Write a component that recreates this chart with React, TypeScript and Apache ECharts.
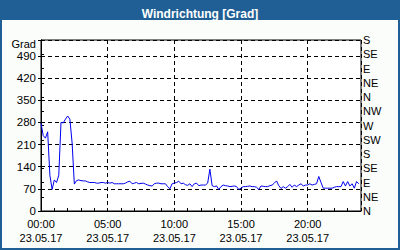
import React, { useEffect, useRef } from "react";
import * as echarts from "echarts";

// Wind direction in degrees, sampled every 10 minutes from 00:00 on 23.05.17
const STEP_MINUTES = 10;
const windDir = [
  277, 238, 230, 250, 113, 68, 98, 90, 113, 280, 278, 290, 300, 290, 215, 85, 96, 98, 96, 95,
  95, 92, 90, 90, 90, 88, 88, 90, 90, 88, 90, 88, 90, 86, 86, 86, 86, 86, 88, 92,
  94, 86, 88, 90, 86, 87, 88, 85, 82, 80, 79, 86, 88, 88, 86, 86, 86, 77, 70, 86,
  88, 90, 94, 86, 88, 83, 81, 86, 77, 86, 88, 80, 82, 82, 82, 88, 132, 80, 77, 79,
  68, 77, 82, 80, 79, 77, 78, 79, 77, 68, 72, 77, 77, 78, 79, 77, 77, 75, 68, 79,
  78, 77, 77, 80, 82, 88, 95, 80, 71, 77, 72, 77, 84, 75, 82, 77, 82, 86, 79, 82,
  82, 86, 82, 84, 86, 109, 90, 72, 72, 72, 72, 72, 75, 77, 77, 77, 93, 79, 93, 79,
  86, 72, 93, 86,
];
const dateLabel = "23.05.17";
const compassLabels = ["N", "NE", "E", "SE", "S", "SW", "W", "NW", "N", "NE", "E", "SE", "S"];
const degreeTicksMax = 490;

const FONT = "Liberation Sans, Arial, sans-serif";

export default function App() {
  const ref = useRef<HTMLDivElement>(null);
  useEffect(() => {
    if (!ref.current) return;
    const chart = echarts.init(ref.current, null, { renderer: "svg" });
    const data = windDir.map((v, i) => [(i * STEP_MINUTES) / 60, v]);
    const pad = (n: number) => (n < 10 ? "0" + n : String(n));
    const dashed = { show: true, lineStyle: { color: "#000", width: 1, type: [4, 3] as any } };
    chart.setOption({
      animation: false,
      backgroundColor: "#1f5f95",
      title: {
        text: "Windrichtung [Grad]",
        left: "center",
        top: 3,
        textStyle: { color: "#fff", fontSize: 12, fontWeight: "bold", fontFamily: FONT },
      },
      graphic: [
        {
          type: "rect",
          left: 2,
          top: 20,
          z: -10,
          shape: { width: 396, height: 228 },
          style: { fill: "#fbfdfb" },
        },
      ],
      grid: {
        left: 41,
        right: 39,
        top: 40,
        bottom: 39,
        show: true,
        backgroundColor: "#fff",
        borderColor: "#000",
        borderWidth: 1,
      },
      xAxis: [
        {
          type: "value",
          min: 0,
          max: 24,
          interval: 1,
          axisLine: { show: true, lineStyle: { color: "#000", width: 1 } },
          axisTick: { show: true, inside: true, length: 3, lineStyle: { color: "#000" } },
          axisLabel: {
            margin: 6,
            color: "#000",
            fontSize: 11,
            fontFamily: FONT,
            lineHeight: 14,
            showMaxLabel: false,
            formatter: (v: number) => (v % 5 === 0 && v < 24 ? `${pad(v)}:00\n${dateLabel}` : ""),
          },
          splitLine: { show: false },
        },
        {
          type: "value",
          min: 0,
          max: 24,
          interval: 5,
          position: "bottom",
          axisLine: { show: false },
          axisTick: { show: false },
          axisLabel: { show: false },
          splitLine: dashed,
        },
      ],
      yAxis: [
        {
          type: "value",
          position: "left",
          min: 0,
          max: 540,
          interval: 70,
          name: "Grad",
          nameLocation: "end",
          nameGap: -4,
          nameTextStyle: {
            color: "#000",
            fontSize: 11,
            lineHeight: 10,
            fontFamily: FONT,
            align: "right",
            verticalAlign: "middle",
            padding: [0, 5, 0, 0],
          },
          axisLine: { show: true, lineStyle: { color: "#000", width: 1 } },
          axisTick: { show: true, length: 3, lineStyle: { color: "#000" } },
          axisLabel: {
            margin: 5,
            color: "#000",
            fontSize: 11.5,
            lineHeight: 10,
            fontFamily: FONT,
            formatter: (v: number) => (v <= degreeTicksMax ? String(v) : ""),
          },
          splitLine: dashed,
        },
        {
          type: "value",
          position: "right",
          min: 0,
          max: 540,
          interval: 45,
          axisLine: { show: true, lineStyle: { color: "#000", width: 1 } },
          axisTick: { show: true, length: 3, lineStyle: { color: "#000" } },
          axisLabel: {
            margin: 2,
            color: "#000",
            fontSize: 11,
            lineHeight: 11,
            fontFamily: FONT,
            formatter: (v: number) => compassLabels[Math.round(v / 45)] ?? "",
          },
          splitLine: { show: false },
        },
      ],
      series: [
        {
          type: "line",
          xAxisIndex: 0,
          yAxisIndex: 0,
          data,
          symbol: "none",
          lineStyle: { color: "#0000ee", width: 1 },
        },
      ],
    });
    return () => chart.dispose();
  }, []);
  return <div ref={ref} style={{ position: "absolute", left: 0, top: 0, width: 400, height: 250 }} />;
}
